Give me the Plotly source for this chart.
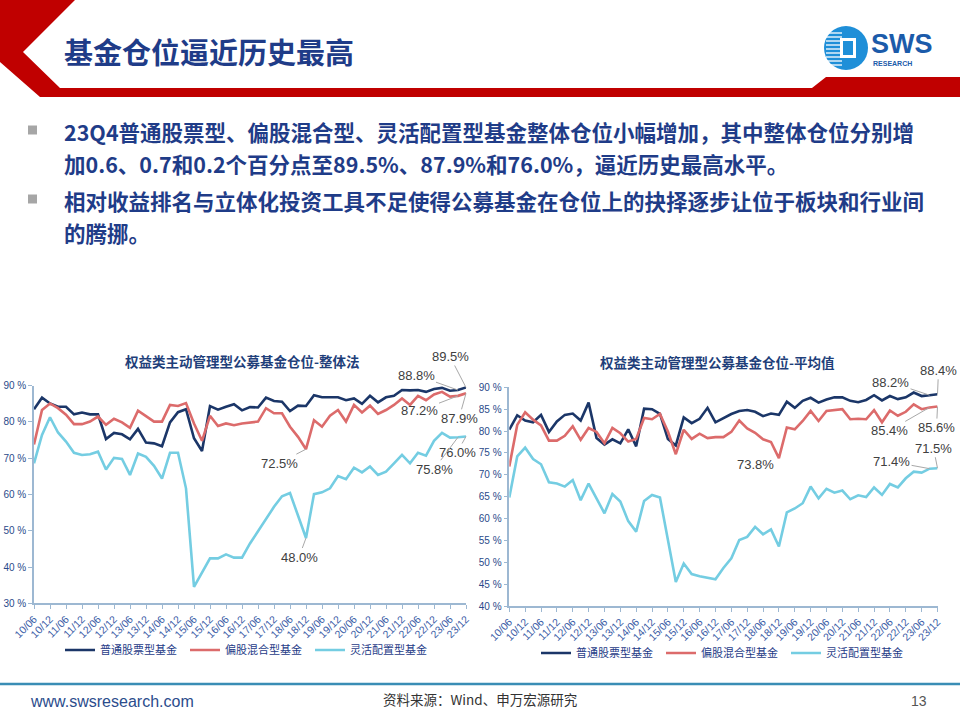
import plotly.graph_objects as go

# ---------------- data ----------------
QUARTER_IDX = list(range(55))  # 2010Q2 ... 2023Q4
X_TICK_VALS = list(range(0, 55, 2))
X_TICK_LABELS = ["10/06", "10/12", "11/06", "11/12", "12/06", "12/12", "13/06", "13/12",
                 "14/06", "14/12", "15/06", "15/12", "16/06", "16/12", "17/06", "17/12",
                 "18/06", "18/12", "19/06", "19/12", "20/06", "20/12", "21/06", "21/12",
                 "22/06", "22/12", "23/06", "23/12"]

SERIES_NAMES = ["普通股票型基金", "偏股混合型基金", "灵活配置型基金"]

# 整体法
L_STOCK = [83.5, 86.7, 85.1, 84.2, 84.2, 82.1, 82.6, 82.1, 82.1, 75.3, 77.0, 76.6, 75.2, 78.1,
           74.3, 74.1, 73.3, 79.9, 82.7, 83.5, 75.5, 72.0, 84.4, 83.4, 84.2, 84.9, 83.2, 84.1,
           84.0, 86.7, 85.8, 85.6, 83.0, 84.5, 84.4, 87.4, 86.8, 86.8, 86.8, 86.0, 86.5, 85.0,
           87.2, 85.4, 86.8, 87.2, 88.8, 88.7, 88.8, 88.3, 89.1, 89.4, 88.6, 88.8, 89.5]
L_MIXED = [73.8, 83.3, 85.1, 83.8, 82.0, 79.4, 79.4, 80.1, 81.5, 79.2, 80.9, 79.9, 78.4, 83.1,
           81.6, 80.1, 80.1, 84.7, 84.4, 85.2, 79.6, 74.8, 81.7, 78.9, 79.6, 79.1, 79.6, 79.9,
           80.1, 83.8, 82.4, 82.4, 78.7, 75.9, 72.5, 80.5, 78.7, 81.7, 83.3, 80.1, 84.7, 82.6,
           84.5, 82.2, 83.3, 84.7, 86.5, 84.7, 87.2, 86.0, 87.6, 88.3, 87.0, 87.2, 87.9]
L_FLEX = [68.6, 76.4, 81.3, 77.1, 74.6, 71.5, 70.9, 71.1, 71.8, 66.9, 70.1, 69.8, 65.4, 71.3,
          70.4, 67.9, 64.4, 71.5, 71.5, 61.7, 34.5, 38.3, 42.4, 42.4, 43.5, 42.6, 42.6, 46.5,
          49.8, 53.2, 56.6, 59.5, 60.4, 54.2, 48.0, 60.1, 60.6, 61.7, 65.1, 64.2, 67.4, 66.1,
          67.7, 65.4, 66.3, 68.6, 70.9, 68.6, 71.5, 70.7, 74.8, 77.0, 75.7, 75.8, 76.0]

# 平均值
R_STOCK = [80.3, 83.6, 82.4, 82.0, 83.7, 79.8, 82.2, 83.7, 84.0, 82.4, 86.5, 78.4, 76.9, 78.1,
           77.2, 80.4, 76.5, 85.1, 85.0, 83.9, 78.2, 76.7, 83.1, 81.8, 82.8, 85.3, 82.0, 83.0,
           83.9, 84.6, 84.8, 84.4, 83.4, 84.0, 83.7, 86.7, 85.3, 86.9, 87.6, 86.5, 87.2, 87.7,
           87.7, 86.9, 86.6, 87.1, 88.2, 87.0, 88.0, 87.3, 87.7, 88.8, 88.0, 88.2, 88.4]
R_MIXED = [71.9, 81.4, 84.3, 82.6, 81.3, 77.8, 77.8, 78.9, 81.1, 78.0, 80.7, 79.8, 77.2, 80.7,
           79.5, 77.6, 78.2, 83.0, 82.7, 83.9, 79.9, 74.7, 80.3, 78.2, 79.4, 78.4, 78.6, 78.6,
           79.8, 82.4, 80.6, 79.6, 78.1, 77.5, 73.8, 80.8, 80.4, 82.3, 84.6, 82.3, 84.6, 84.8,
           85.0, 82.7, 82.8, 82.7, 84.8, 82.0, 84.7, 83.5, 84.4, 86.1, 85.0, 85.4, 85.6]
R_FLEX = [64.8, 74.2, 76.2, 73.6, 72.4, 68.3, 68.0, 67.3, 68.8, 64.2, 68.0, 64.7, 61.2, 65.6,
          63.9, 59.4, 57.0, 64.0, 65.4, 64.8, 55.4, 45.5, 49.7, 47.3, 46.8, 46.5, 46.1, 48.7,
          50.9, 55.1, 55.8, 58.1, 56.4, 57.5, 53.6, 61.4, 62.3, 63.5, 67.3, 64.6, 66.8, 65.9,
          66.4, 64.4, 65.3, 64.9, 67.1, 65.4, 67.9, 67.1, 69.2, 70.7, 70.5, 71.4, 71.5]

L_Y_TICKS = [30, 40, 50, 60, 70, 80, 90]
L_Y_LABELS = ["30 %", "40 %", "50 %", "60 %", "70 %", "80 %", "90 %"]
R_Y_TICKS = [40, 45, 50, 55, 60, 65, 70, 75, 80, 85, 90]
R_Y_LABELS = ["40 %", "45 %", "50 %", "55 %", "60 %", "65 %", "70 %", "75 %", "80 %", "85 %", "90 %"]

TITLE = "基金仓位逼近历史最高"
BULLET_LINES = [
    "23Q4普通股票型、偏股混合型、灵活配置型基金整体仓位小幅增加，其中整体仓位分别增",
    "加0.6、0.7和0.2个百分点至89.5%、87.9%和76.0%，逼近历史最高水平。",
    "相对收益排名与立体化投资工具不足使得公募基金在仓位上的抉择逐步让位于板块和行业间",
    "的腾挪。",
]
CHART_TITLES = ["权益类主动管理型公募基金仓位-整体法", "权益类主动管理型公募基金仓位-平均值"]
SOURCE = "资料来源：Wind、申万宏源研究"
SITE = "www.swsresearch.com"
PAGE = "13"

# ---------------- styling ----------------
W, H = 960, 720
C_DARK = "#1B3668"
C_RED = "#DC6B6B"
C_CYAN = "#74CDE2"
C_AXIS = "#9DB8D2"
C_TICK = "#2A4A8A"
C_TEXT = "#1F3C88"
C_LABEL = "#404040"
C_LEADER = "#A8A8A8"
COLORS = [C_DARK, C_RED, C_CYAN]
CJK = "Noto Sans CJK SC"


def px(x):
    return x / W


def py(y):
    return 1 - y / H


fig = go.Figure()

left = [L_STOCK, L_MIXED, L_FLEX]
right = [R_STOCK, R_MIXED, R_FLEX]
for i, vals in enumerate(left):
    fig.add_trace(go.Scatter(x=QUARTER_IDX, y=vals, mode="lines", name=SERIES_NAMES[i],
                             line=dict(color=COLORS[i], width=2.6), xaxis="x", yaxis="y",
                             legend="legend", hoverinfo="skip"))
for i, vals in enumerate(right):
    fig.add_trace(go.Scatter(x=QUARTER_IDX, y=vals, mode="lines", name=SERIES_NAMES[i],
                             line=dict(color=COLORS[i], width=2.6), xaxis="x2", yaxis="y2",
                             legend="legend2", hoverinfo="skip"))

axis_common = dict(showline=True, linecolor=C_AXIS, linewidth=1.5, showgrid=False,
                   zeroline=False, ticks="outside", ticklen=4, tickcolor=C_AXIS,
                   automargin=False,
                   tickfont=dict(family="Liberation Sans, Arial", size=10, color=C_TICK))
xfont = dict(family="Liberation Sans, Arial", size=10.5, color="#3A5CA6")

fig.update_layout(
    width=W, height=H, autosize=False,
    margin=dict(l=0, r=0, t=0, b=0),
    paper_bgcolor="white", plot_bgcolor="white",
    showlegend=True,
    xaxis=dict(domain=[px(34), px(466)], range=[0, 54], tickmode="array",
               tickvals=X_TICK_VALS, ticktext=X_TICK_LABELS, tickangle=-45,
               anchor="y", **axis_common),
    yaxis=dict(domain=[py(603.3), py(385.7)], range=[30, 90], tickmode="array",
               tickvals=L_Y_TICKS, ticktext=L_Y_LABELS, anchor="x", **axis_common),
    xaxis2=dict(domain=[px(509.3), px(937.5)], range=[0, 54], tickmode="array",
                tickvals=X_TICK_VALS, ticktext=X_TICK_LABELS, tickangle=-45,
                anchor="y2", **axis_common),
    yaxis2=dict(domain=[py(606), py(387.3)], range=[40, 90], tickmode="array",
                tickvals=R_Y_TICKS, ticktext=R_Y_LABELS, anchor="x2", **axis_common),
    legend=dict(orientation="h", x=px(60), xanchor="left", y=py(650), yanchor="middle",
                font=dict(family=CJK, size=11, color=C_TEXT), bgcolor="rgba(0,0,0,0)",
                entrywidth=80, entrywidthmode="pixels", itemwidth=30,
                tracegroupgap=0),
    legend2=dict(orientation="h", x=px(536), xanchor="left", y=py(653), yanchor="middle",
                 font=dict(family=CJK, size=11, color=C_TEXT), bgcolor="rgba(0,0,0,0)",
                 entrywidth=80, entrywidthmode="pixels", itemwidth=30,
                 tracegroupgap=0),
)
fig.update_xaxes(tickfont=xfont)

shapes = []
# header red chevron + band
hdr = [(0, 0), (75, 0), (23, 52), (60, 88), (812, 88), (826, 77), (960, 77), (960, 97),
       (40, 97), (0, 62)]
path = "M " + " L ".join(f"{px(a):.5f},{py(b):.5f}" for a, b in hdr) + " Z"
shapes.append(dict(type="path", xref="paper", yref="paper", path=path,
                   fillcolor="#C00000", line=dict(width=0), layer="above"))
# logo circle
shapes.append(dict(type="circle", xref="paper", yref="paper", x0=px(824), x1=px(868),
                   y0=py(70), y1=py(26), fillcolor="#1F8FD8", line=dict(width=0)))
for yy in range(33, 66, 4):
    shapes.append(dict(type="line", xref="paper", yref="paper", x0=px(826), x1=px(842),
                       y0=py(yy), y1=py(yy), line=dict(color="white", width=1.3)))
shapes.append(dict(type="rect", xref="paper", yref="paper", x0=px(840), x1=px(856),
                   y0=py(58), y1=py(38), fillcolor="white", line=dict(width=0)))
shapes.append(dict(type="rect", xref="paper", yref="paper", x0=px(843), x1=px(853),
                   y0=py(55), y1=py(41), fillcolor="#1F8FD8", line=dict(width=0)))
# bullets
for yb in (130, 199):
    shapes.append(dict(type="rect", xref="paper", yref="paper", x0=px(28), x1=px(37),
                       y0=py(yb + 4.5), y1=py(yb - 4.5), fillcolor="#A6A6A6", line=dict(width=0)))
# footer line
shapes.append(dict(type="line", xref="paper", yref="paper", x0=0, x1=1, y0=py(684), y1=py(684),
                   line=dict(color="#3A8DB5", width=2.5)))
fig.update_layout(shapes=shapes)

ann = []
ann.append(dict(text=f"<b>{TITLE}</b>", x=px(62), y=py(51), xref="paper", yref="paper",
                xanchor="left", yanchor="middle", showarrow=False,
                font=dict(family=CJK, size=29, color=C_TEXT)))
ann.append(dict(text="<b>SWS</b>", x=px(869), y=py(44), xref="paper", yref="paper",
                xanchor="left", yanchor="middle", showarrow=False,
                font=dict(family="Liberation Sans, Arial", size=27, color="#1B5BAA")))
ann.append(dict(text="<b>RESEARCH</b>", x=px(871), y=py(63), xref="paper", yref="paper",
                xanchor="left", yanchor="middle", showarrow=False,
                font=dict(family="Liberation Sans Narrow, Liberation Sans", size=7, color="#1B5BAA")))
for t, yy in zip(BULLET_LINES, [131, 164, 200, 233]):
    ann.append(dict(text=f"<b>{t}</b>", x=px(62), y=py(yy), xref="paper", yref="paper",
                    xanchor="left", yanchor="middle", showarrow=False,
                    font=dict(family=CJK, size=21.5, color=C_TEXT)))
for t, xx, yy in zip(CHART_TITLES, [242, 717], [361, 362]):
    ann.append(dict(text=f"<b>{t}</b>", x=px(xx), y=py(yy), xref="paper", yref="paper",
                    xanchor="center", yanchor="middle", showarrow=False,
                    font=dict(family=CJK, size=13.5, color="#1F3F7A")))
ann.append(dict(text=SITE, x=px(28), y=py(701), xref="paper", yref="paper", xanchor="left",
                yanchor="middle", showarrow=False,
                font=dict(family="Liberation Sans Narrow, Liberation Sans", size=16, color="#2B4C8C")))
ann.append(dict(text=SOURCE, x=px(480), y=py(699), xref="paper", yref="paper", xanchor="center",
                yanchor="middle", showarrow=False, font=dict(family=CJK, size=13.5, color="#333333")))
ann.append(dict(text=PAGE, x=px(919), y=py(701), xref="paper", yref="paper", xanchor="center",
                yanchor="middle", showarrow=False,
                font=dict(family="Liberation Sans Narrow, Liberation Sans", size=14, color="#555555")))

# data labels (leader lines)
lab_font = dict(family="Liberation Sans, Arial", size=13, color=C_LABEL)


def label(xa, ya, series, k, ax, ay, arrow=True, xshift=0, yshift=0):
    d = dict(x=k, y=series[k], xref=xa, yref=ya, text=f"{series[k]:.1f}%", font=lab_font)
    if arrow:
        d.update(showarrow=True, arrowhead=0, arrowwidth=1, arrowcolor=C_LEADER, ax=ax, ay=ay,
                 standoff=0, startstandoff=0)
    else:
        d.update(showarrow=False, xshift=xshift, yshift=yshift)
    return d


ann += [
    label("x", "y", L_STOCK, 54, -16, -31),
    label("x", "y", L_STOCK, 53, -42, -15),
    label("x", "y", L_MIXED, 53, -39, 15),
    label("x", "y", L_MIXED, 54, -7, 25),
    label("x", "y", L_MIXED, 34, -27, 14),
    label("x", "y", L_FLEX, 34, -7, 19),
    label("x", "y", L_FLEX, 54, -9, 16),
    label("x", "y", L_FLEX, 53, -24, 32),
    label("x2", "y2", R_STOCK, 54, 1, -24),
    label("x2", "y2", R_STOCK, 53, -39, -13),
    label("x2", "y2", R_MIXED, 53, -40, 23),
    label("x2", "y2", R_MIXED, 54, -1, 21),
    label("x2", "y2", R_MIXED, 34, 0, 0, arrow=False, xshift=-23, yshift=-6),
    label("x2", "y2", R_FLEX, 54, -4, -20),
    label("x2", "y2", R_FLEX, 53, -38, -7),
]
fig.update_layout(annotations=ann)

fig.write_html("out.html")
